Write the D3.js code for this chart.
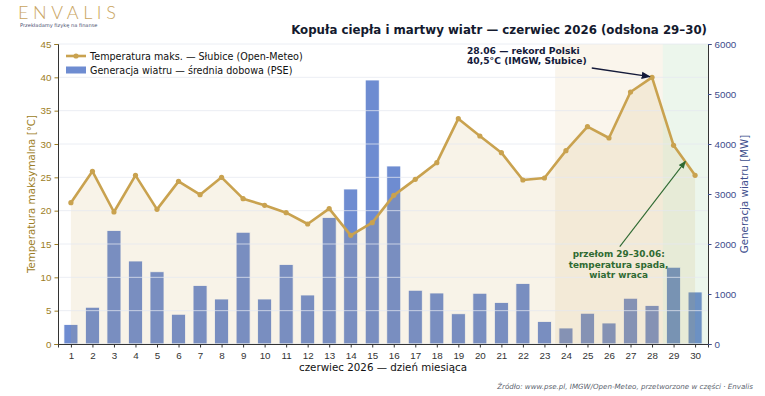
<!DOCTYPE html>
<html lang="pl">
<head>
  <meta charset="utf-8" />
  <style>
    body { margin: 0; background: #fff; }
    svg { font-family: "DejaVu Sans", sans-serif; }
  </style>
</head>
<body>
<div id="container"></div>
<script src="https://cdn.jsdelivr.net/npm/d3@7"></script>
<script>

const days = d3.range(1, 31);
// max temperature, Słubice (°C)
const tempMax = [21.2, 25.9, 19.8, 25.3, 20.2, 24.4, 22.4, 25.0, 21.8, 20.8,
                 19.7, 18.0, 20.3, 16.3, 18.2, 22.3, 24.7, 27.2, 33.8, 31.2,
                 28.7, 24.6, 24.9, 29.0, 32.6, 30.9, 37.8, 40.0, 29.8, 25.3];
// daily average wind generation (MW)
const windGen = [390, 735, 2270, 1660, 1445, 595, 1170, 900, 2235, 900,
                 1590, 980, 2530, 3100, 5280, 3560, 1075, 1020, 605, 1015,
                 830, 1210, 450, 320, 615, 420, 915, 770, 1535, 1040];
const tempTicks = d3.range(0, 46, 5);
const windTicks = d3.range(0, 6001, 1000);

const W = 765, H = 396;
const margin = { top: 44, right: 57, bottom: 52, left: 58 };
const width = W - margin.left - margin.right;
const height = H - margin.top - margin.bottom;

const svg = d3.select('#container')
  .append('svg')
  .attr('width', W)
  .attr('height', H);

const g = svg.append('g')
  .attr('transform', `translate(${margin.left}, ${margin.top})`);

const x = d3.scaleLinear().domain([0.4, 30.6]).range([0, width]);
const yT = d3.scaleLinear().domain([0, 45]).range([height, 0]);
const yW = d3.scaleLinear().domain([0, 6000]).range([height, 0]);
const barW = x(0.65) - x(0);

const gold = '#c9a24f';
const goldText = '#9c7d24';
const blueText = '#3d4d8c';
const fs = 9.8;

// bars - wind
g.selectAll('rect.bar')
  .data(days)
  .enter()
  .append('rect')
  .attr('class', 'bar')
  .attr('x', d => x(d) - barW / 2)
  .attr('y', (d, i) => yW(windGen[i]))
  .attr('width', barW)
  .attr('height', (d, i) => height - yW(windGen[i]))
  .attr('fill', '#4a6fc6')
  .attr('fill-opacity', 0.8)
  .attr('stroke', '#fff')
  .attr('stroke-width', 0.8);

// highlighted periods
g.append('rect')
  .attr('x', x(23.5)).attr('y', 0)
  .attr('width', x(28.5) - x(23.5)).attr('height', height)
  .attr('fill', '#d9b56a').attr('fill-opacity', 0.13);
g.append('rect')
  .attr('x', x(28.5)).attr('y', 0)
  .attr('width', x(30.6) - x(28.5)).attr('height', height)
  .attr('fill', '#5fb35f').attr('fill-opacity', 0.12);

// area under temperature
const area = d3.area()
  .x((d, i) => x(days[i]))
  .y0(height)
  .y1(d => yT(d));
g.append('path')
  .datum(tempMax)
  .attr('d', area)
  .attr('fill', gold)
  .attr('fill-opacity', 0.13);

// grid
g.selectAll('line.grid')
  .data(tempTicks)
  .enter()
  .append('line')
  .attr('x1', 0).attr('x2', width)
  .attr('y1', d => yT(d)).attr('y2', d => yT(d))
  .attr('stroke', '#e4e8f0')
  .attr('stroke-opacity', 0.75)
  .attr('stroke-width', 1);

// temperature line
const line = d3.line()
  .x((d, i) => x(days[i]))
  .y(d => yT(d));
g.append('path')
  .datum(tempMax)
  .attr('d', line)
  .attr('fill', 'none')
  .attr('stroke', gold)
  .attr('stroke-width', 2.6)
  .attr('stroke-linejoin', 'round');
g.selectAll('circle.pt')
  .data(tempMax)
  .enter()
  .append('circle')
  .attr('cx', (d, i) => x(days[i]))
  .attr('cy', d => yT(d))
  .attr('r', 2.6)
  .attr('fill', gold);

// axes
const xAxis = g.append('g')
  .attr('transform', `translate(0, ${height})`)
  .call(d3.axisBottom(x).tickValues(days).tickFormat(d3.format('d')).tickSizeOuter(0).tickSize(3.5));
xAxis.selectAll('text').attr('fill', '#333').attr('font-size', fs).attr('dy', '0.9em');
xAxis.selectAll('.tick line').attr('stroke', '#333');
xAxis.select('.domain').attr('stroke', '#333');

const yAxisL = g.append('g')
  .call(d3.axisLeft(yT).tickValues(tempTicks).tickSizeOuter(0).tickSize(3.5));
yAxisL.selectAll('text').attr('fill', goldText).attr('font-size', fs);
yAxisL.selectAll('.tick line').attr('stroke', goldText);
yAxisL.select('.domain').attr('stroke', '#333');

const yAxisR = g.append('g')
  .attr('transform', `translate(${width}, 0)`)
  .call(d3.axisRight(yW).tickValues(windTicks).tickFormat(d3.format('d')).tickSizeOuter(0).tickSize(3.5));
yAxisR.selectAll('text').attr('fill', blueText).attr('font-size', fs);
yAxisR.selectAll('.tick line').attr('stroke', blueText);
yAxisR.select('.domain').attr('stroke', '#333');

// axis labels
svg.append('text')
  .attr('x', margin.left + width / 2).attr('y', 371)
  .attr('text-anchor', 'middle').attr('font-size', 10.3).attr('fill', '#111')
  .text('czerwiec 2026 — dzień miesiąca');
svg.append('text')
  .attr('transform', `translate(35, ${margin.top + height / 2}) rotate(-90)`)
  .attr('text-anchor', 'middle').attr('font-size', 10.3).attr('fill', goldText)
  .text('Temperatura maksymalna [°C]');
svg.append('text')
  .attr('transform', `translate(748, ${margin.top + height / 2}) rotate(-90)`)
  .attr('text-anchor', 'middle').attr('font-size', 10.3).attr('fill', blueText)
  .text('Generacja wiatru [MW]');

// title
svg.append('text')
  .attr('x', 707).attr('y', 34)
  .attr('text-anchor', 'end').attr('font-size', 11.8).attr('font-weight', 'bold').attr('fill', '#141a2e')
  .text('Kopuła ciepła i martwy wiatr — czerwiec 2026 (odsłona 29–30)');

// logo
svg.append('text')
  .attr('x', 18).attr('y', 19)
  .attr('font-size', 18).attr('letter-spacing', 4.6).attr('fill', '#c9a45e')
  .attr('font-family', 'Lato, sans-serif').attr('font-weight', 300)
  .text('ENVALIS');
svg.append('text')
  .attr('x', 20).attr('y', 26.5)
  .attr('font-size', 5.1).attr('fill', '#4a5070')
  .text('Przekładamy fizykę na finanse');

// legend
const lg = g.append('g').attr('transform', 'translate(8, 12)');
lg.append('line').attr('x1', 0).attr('x2', 20).attr('y1', 0).attr('y2', 0)
  .attr('stroke', gold).attr('stroke-width', 2.6);
lg.append('circle').attr('cx', 10).attr('cy', 0).attr('r', 2.6).attr('fill', gold);
lg.append('text').attr('x', 24).attr('y', 3.5).attr('font-size', 9.6).attr('fill', '#111')
  .text('Temperatura maks. — Słubice (Open-Meteo)');
lg.append('rect').attr('x', 0).attr('y', 10.5).attr('width', 20).attr('height', 7)
  .attr('fill', '#4a6fc6').attr('fill-opacity', 0.8);
lg.append('text').attr('x', 24).attr('y', 17.5).attr('font-size', 9.6).attr('fill', '#111')
  .text('Generacja wiatru — średnia dobowa (PSE)');

// arrow markers
const defs = svg.append('defs');
[['arrNavy', '#141a3a'], ['arrGreen', '#2f6a32']].forEach(([id, c]) => {
  defs.append('marker')
    .attr('id', id).attr('viewBox', '0 0 10 10')
    .attr('refX', 9).attr('refY', 5)
    .attr('markerWidth', 7).attr('markerHeight', 7)
    .attr('orient', 'auto')
    .append('path').attr('d', 'M0,1 L10,5 L0,9 Z').attr('fill', c);
});

// annotation: record
const a1 = g.append('g');
a1.append('line')
  .attr('x1', x(25.2)).attr('y1', yT(41.4))
  .attr('x2', x(27.9)).attr('y2', yT(40.1))
  .attr('stroke', '#141a3a').attr('stroke-width', 1.3)
  .attr('marker-end', 'url(#arrNavy)');
a1.append('text').attr('y', yT(44.2) + 5)
  .attr('font-size', 9.2).attr('font-weight', 'bold').attr('fill', '#141a3a')
  .selectAll('tspan')
  .data(['28.06 — rekord Polski', '40,5°C (IMGW, Słubice)'])
  .enter().append('tspan')
  .attr('x', x(19.4)).attr('dy', (d, i) => i ? '1.1em' : 0)
  .text(d => d);

// annotation: breakthrough
const a2 = g.append('g');
a2.append('line')
  .attr('x1', x(26.5)).attr('y1', yT(14.6))
  .attr('x2', x(29.55)).attr('y2', yT(27.4))
  .attr('stroke', '#2f6a32').attr('stroke-width', 1.1)
  .attr('marker-end', 'url(#arrGreen)');
a2.append('text').attr('y', yT(13.0))
  .attr('font-size', 8.9).attr('font-weight', 'bold').attr('fill', '#2f6a32')
  .attr('text-anchor', 'middle')
  .selectAll('tspan')
  .data(['przełom 29–30.06:', 'temperatura spada,', 'wiatr wraca'])
  .enter().append('tspan')
  .attr('x', x(26.45)).attr('dy', (d, i) => i ? '1.15em' : 0)
  .text(d => d);

// source
svg.append('text')
  .attr('x', 753).attr('y', 389)
  .attr('text-anchor', 'end').attr('font-size', 7.1).attr('font-style', 'italic').attr('fill', '#5a5f6e')
  .text('Źródło: www.pse.pl, IMGW/Open-Meteo, przetworzone w części · Envalis');

</script>
</body>
</html>
